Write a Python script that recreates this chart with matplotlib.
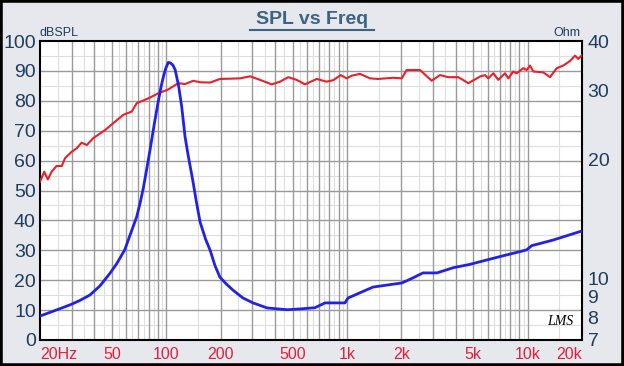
import matplotlib
matplotlib.use("Agg")
import matplotlib.pyplot as plt
from matplotlib.patches import Rectangle

# SPL curve (Hz, dB)
spl_freq = [20, 21.1, 22.1, 23.2, 24.7, 26.4, 27.5, 30.0, 31.9, 34.0, 36.3, 39.4,
            45.8, 52.0, 57.8, 64.4, 68.6, 79.5, 90.3, 102.6, 116.6, 127, 141, 154,
            175, 198, 256, 291, 330, 383, 426, 473, 527, 586, 680, 772, 840, 923,
            997, 1062, 1181, 1342, 1486, 1805, 2010, 2142, 2538, 2944, 3274, 3640,
            4134, 4696, 5450, 5808, 6058, 6456, 6882, 7496, 7816, 8332, 8702, 9464,
            9884, 10308, 10752, 12214, 13298, 14486, 15754, 17162, 18292, 19074, 20000]
spl_db = [52.9, 56.3, 53.7, 56.3, 58.2, 58.2, 60.8, 63.0, 64.1, 66.0, 65.2, 67.5,
          70.2, 73.0, 75.3, 76.4, 79.2, 80.8, 82.5, 83.8, 85.9, 85.6, 86.7, 86.2,
          86.1, 87.3, 87.5, 88.2, 87.0, 85.5, 86.4, 87.9, 87.0, 85.5, 87.3, 86.4, 86.9, 88.6,
          87.5, 88.4, 89.0, 87.5, 87.3, 87.7, 87.5, 90.3, 90.3, 86.7, 88.6, 87.9,
          87.9, 85.9, 88.1, 88.6, 87.5, 89.2, 87.0, 89.2, 87.5, 89.8, 89.2, 90.9,
          90.3, 91.8, 89.8, 89.5, 87.9, 90.9, 91.8, 93.3, 95.1, 94.0, 95.3]

# impedance curve (Hz, Ohm)
imp_freq = [20, 24, 29.3, 33, 37.8, 43, 48.8, 53, 58.9, 63, 68.6, 71.5, 74.6, 78,
            81.3, 86, 90.5, 93.5, 96.4, 99.5, 102.6, 105.5, 109, 112, 117, 121.7,
            127, 132, 140, 147, 154, 165, 175, 186, 198, 215, 234, 265, 302, 361, 466,
            550, 665, 756, 975, 1013, 1393, 2010, 2233, 2636, 3148, 3878, 4799,
            5937, 7334, 9075, 9884, 10530, 13873, 20000]
imp_ohm = [8.05, 8.3, 8.59, 8.8, 9.1, 9.6, 10.33, 10.9, 11.84, 12.9, 14.36, 15.5, 16.95, 19.0,
           21.2, 24.8, 28.3, 30.6, 32.5, 34.2, 35.3, 35.2, 34.7, 33.8, 30.8, 27.3,
           22.9, 20.6, 17.8, 15.6, 13.9, 12.6, 11.8, 10.8, 10.1, 9.7, 9.36, 8.95, 8.69, 8.44, 8.35,
           8.39, 8.45, 8.69, 8.69, 8.94, 9.53, 9.76, 9.97, 10.35, 10.35, 10.67, 10.88,
           11.16, 11.44, 11.72, 11.84, 12.13, 12.54, 13.22]

x_ticks = [20, 50, 100, 200, 500, 1000, 2000, 5000, 10000, 20000]
x_labels = ["20Hz", "50", "100", "200", "500", "1k", "2k", "5k", "10k", "20k"]
db_ticks = list(range(0, 101, 10))
ohm_ticks = [7, 8, 9, 10, 20, 30, 40]

label_col = "#1f3d5c"
bg = "#e7e7ee"

fig = plt.figure(figsize=(6.24, 3.66), dpi=100, facecolor=bg)
fig.patches.append(Rectangle((0, 0), 1, 1, transform=fig.transFigure, fill=False,
                             edgecolor="black", linewidth=4, zorder=10))

ax = fig.add_axes([40 / 624, 26 / 366, 542 / 624, 299 / 366])
ax.set_facecolor("white")
ax.set_xscale("log")
ax.set_xlim(20, 20000)
ax.set_ylim(0, 100)

# grid: integer multiples darker, half steps lighter
for dec in [10, 100, 1000, 10000]:
    for m in range(1, 10):
        f = dec * m
        if 20 < f < 20000:
            ax.axvline(f, color="#9a9a9a", lw=1.0, zorder=1)
        fh = dec * (m + 0.5)
        if 20 < fh < 20000:
            ax.axvline(fh, color="#dedede", lw=0.8, zorder=0.5)
for v in range(10, 100, 10):
    ax.axhline(v, color="#9a9a9a", lw=1.0, zorder=1)
for v in range(5, 100, 10):
    ax.axhline(v, color="#dedede", lw=0.8, zorder=0.5)

ax.plot(spl_freq, spl_db, color="#e8202a", lw=1.5, zorder=3)

ax.set_yticks(db_ticks)
ax.set_yticklabels([str(t) for t in db_ticks], fontsize=14, color=label_col,
                   family="Liberation Sans")
ax.set_xticks(x_ticks)
ax.set_xticks([], minor=True)
ax.set_xticklabels(x_labels, fontsize=11.5, color="#e0203a",
                   family=["Liberation Sans Narrow", "Liberation Sans"])
ax.tick_params(axis="both", length=0, pad=3)
ax.tick_params(axis="x", pad=5)
xl = ax.get_xticklabels()
xl[0].set_horizontalalignment("left")
xl[0].set_x(18.5)
xl[-1].set_horizontalalignment("right")
xl[-1].set_x(19500)

for s in ax.spines.values():
    s.set_color("black")
    s.set_linewidth(1.5)

ax2 = ax.twinx()
ax2.set_yscale("log")
ax2.set_ylim(7, 40)
ax2.plot(imp_freq, imp_ohm, color="#2222e6", lw=2.0, zorder=3)
ax2.set_yticks(ohm_ticks)
ax2.set_yticks([], minor=True)
ax2.set_yticklabels([str(t) for t in ohm_ticks], fontsize=14, color=label_col,
                    family="Liberation Sans")
ax2.tick_params(axis="y", length=0, pad=4)
for s in ax2.spines.values():
    s.set_visible(False)

fig.text(40 / 624, 1 - 33 / 366, "dBSPL", fontsize=9, color=label_col,
         family="Liberation Sans", va="center", ha="left")
fig.text(580 / 624, 1 - 33 / 366, "Ohm", fontsize=9, color=label_col,
         family="Liberation Sans", va="center", ha="right")
t = fig.text(312 / 624, 1 - 20 / 366, "SPL vs Freq", fontsize=14, fontweight="bold",
             color="#3b6482", family="Liberation Sans", ha="center", va="center")
fig.add_artist(plt.Line2D([250 / 624, 374 / 624], [1 - 30 / 366, 1 - 30 / 366],
                          color="#3b6482", lw=1.5))
ax.text(0.985, 0.04, "LMS", transform=ax.transAxes, fontsize=10, style="italic",
        family="Liberation Serif", ha="right", va="bottom", color="black", zorder=5)

fig.savefig("out.png", dpi=100, facecolor=bg)
